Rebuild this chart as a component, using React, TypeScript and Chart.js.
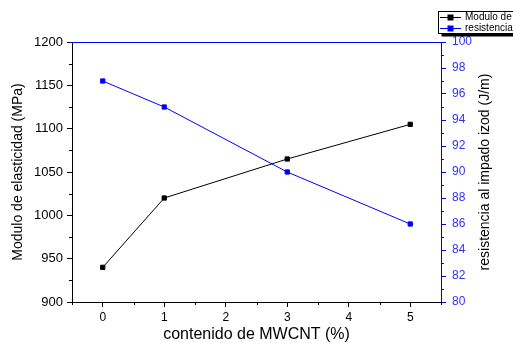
import React, { useEffect, useRef } from "react";
import { Chart, registerables } from "chart.js";

Chart.register(...registerables);

const xValues = [0, 1, 3, 5];
const modulus = [940, 1020, 1065, 1105];
const impact = [97, 95, 90, 86];
const xTicks = [0, 1, 2, 3, 4, 5];
const xMinor = [-0.5, 0.5, 1.5, 2.5, 3.5, 4.5, 5.5];
const yTicks = [900, 950, 1000, 1050, 1100, 1150, 1200];
const yMinor = [925, 975, 1025, 1075, 1125, 1175];
const y1Ticks = [80, 82, 84, 86, 88, 90, 92, 94, 96, 98, 100];
const y1Minor = [81, 83, 85, 87, 89, 91, 93, 95, 97, 99];
const legendLabels = ["Modulo de", "resistencia"];
const rightTitle = "resistencia al impado izod (J/m)";

const FONT = "'Liberation Sans', Arial, sans-serif";
const BLUE = "#0000ff";

const framePlugin = {
  id: "frame",
  afterDraw(chart: any) {
    const ctx = chart.ctx;
    const { left, right, top, bottom } = chart.chartArea;
    ctx.save();
    ctx.lineWidth = 1;
    // top line
    ctx.strokeStyle = BLUE;
    ctx.beginPath();
    ctx.moveTo(left, top + 0.5);
    ctx.lineTo(right, top + 0.5);
    ctx.stroke();
    // minor ticks
    const xs = chart.scales.x;
    ctx.strokeStyle = "#000";
    ctx.beginPath();
    xMinor.forEach((v) => {
      const px = Math.round(xs.getPixelForValue(v)) + 0.5;
      ctx.moveTo(px, bottom);
      ctx.lineTo(px, bottom + 3);
    });
    const ys = chart.scales.y;
    yMinor.forEach((v) => {
      const py = Math.round(ys.getPixelForValue(v)) + 0.5;
      ctx.moveTo(left, py);
      ctx.lineTo(left - 3, py);
    });
    ctx.stroke();
    const y1 = chart.scales.y1;
    ctx.strokeStyle = BLUE;
    ctx.beginPath();
    y1Minor.forEach((v) => {
      const py = Math.round(y1.getPixelForValue(v)) + 0.5;
      ctx.moveTo(right, py);
      ctx.lineTo(right + 3, py);
    });
    ctx.stroke();

    // right axis title (reads bottom to top)
    ctx.save();
    ctx.translate(485, (top + bottom) / 2);
    ctx.rotate(-Math.PI / 2);
    ctx.font = `14px ${FONT}`;
    ctx.fillStyle = "#000";
    ctx.textAlign = "center";
    ctx.textBaseline = "middle";
    ctx.fillText(rightTitle, 0, 0);
    ctx.restore();

    // legend
    const bx = 438.5, by = 11.5, bw = 90, bh = 22;
    ctx.fillStyle = "#000";
    ctx.fillRect(bx + 3, by + 3, bw, bh);
    ctx.fillStyle = "#fff";
    ctx.fillRect(bx, by, bw, bh);
    ctx.strokeStyle = "#000";
    ctx.strokeRect(bx, by, bw, bh);
    const colors = ["#000", BLUE];
    const rowsY = [17.5, 28.5];
    ctx.font = `10px ${FONT}`;
    ctx.textBaseline = "middle";
    ctx.textAlign = "left";
    legendLabels.forEach((lab, i) => {
      ctx.strokeStyle = colors[i];
      ctx.fillStyle = colors[i];
      ctx.beginPath();
      ctx.moveTo(440, rowsY[i]);
      ctx.lineTo(461, rowsY[i]);
      ctx.stroke();
      ctx.fillRect(447.5, rowsY[i] - 3, 6, 6);
      ctx.fillStyle = "#000";
      ctx.fillText(lab, 465, rowsY[i]);
    });
    ctx.restore();
  },
};

export default function App() {
  const ref = useRef<HTMLCanvasElement | null>(null);
  useEffect(() => {
    if (!ref.current) return;
    const chart = new Chart(ref.current, {
      type: "line",
      data: {
        datasets: [
          {
            label: legendLabels[0],
            data: xValues.map((x, i) => ({ x, y: modulus[i] })),
            borderColor: "#000",
            backgroundColor: "#000",
            borderWidth: 1,
            pointStyle: "rect",
            pointRadius: 3,
            yAxisID: "y",
          },
          {
            label: legendLabels[1],
            data: xValues.map((x, i) => ({ x, y: impact[i] })),
            borderColor: BLUE,
            backgroundColor: BLUE,
            borderWidth: 1,
            pointStyle: "rect",
            pointRadius: 3,
            yAxisID: "y1",
          },
        ],
      },
      options: {
        responsive: false,
        animation: false,
        layout: { padding: { top: 42, left: 0, right: 0, bottom: 0 } },
        plugins: { legend: { display: false }, tooltip: { enabled: false } },
        scales: {
          x: {
            type: "linear",
            min: -0.5,
            max: 5.5,
            afterBuildTicks: (s: any) => {
              s.ticks = xTicks.map((v) => ({ value: v }));
            },
            afterFit: (s: any) => {
              s.height = 41;
            },
            grid: { drawOnChartArea: false, drawTicks: true, tickLength: 5, color: "#000" },
            border: { color: "#000" },
            ticks: {
              color: "#000",
              font: { family: FONT, size: 12 },
              padding: 3,
              maxRotation: 0,
              callback: (v: any) => String(v),
            },
            title: {
              display: true,
              text: "contenido de MWCNT (%)",
              color: "#000",
              font: { family: FONT, size: 16 },
              padding: { top: 0, bottom: -1 },
            },
          },
          y: {
            type: "linear",
            position: "left",
            min: 900,
            max: 1200,
            afterBuildTicks: (s: any) => {
              s.ticks = yTicks.map((v) => ({ value: v }));
            },
            afterFit: (s: any) => {
              s.width = 72;
            },
            grid: { drawOnChartArea: false, drawTicks: true, tickLength: 5, color: "#000" },
            border: { color: "#000" },
            ticks: {
              color: "#000",
              font: { family: FONT, size: 13 },
              padding: 4,
              callback: (v: any) => String(v),
            },
            title: {
              display: true,
              text: "Modulo de elasticidad (MPa)",
              color: "#000",
              font: { family: FONT, size: 14 },
              padding: { top: 10, bottom: 0 },
            },
          },
          y1: {
            type: "linear",
            position: "right",
            min: 80,
            max: 100,
            afterBuildTicks: (s: any) => {
              s.ticks = y1Ticks.map((v) => ({ value: v }));
            },
            afterFit: (s: any) => {
              s.width = 72;
            },
            grid: { drawOnChartArea: false, drawTicks: true, tickLength: 5, color: BLUE },
            border: { color: BLUE },
            ticks: {
              color: "#3030ff",
              font: { family: FONT, size: 12 },
              padding: 6,
              callback: (v: any) => String(v),
            },
            title: { display: false },
          },
        },
      },
      plugins: [framePlugin],
    });
    return () => chart.destroy();
  }, []);
  return (
    <canvas
      ref={ref}
      width={513}
      height={343}
      style={{ position: "absolute", left: 0, top: 0, display: "block" }}
    />
  );
}
